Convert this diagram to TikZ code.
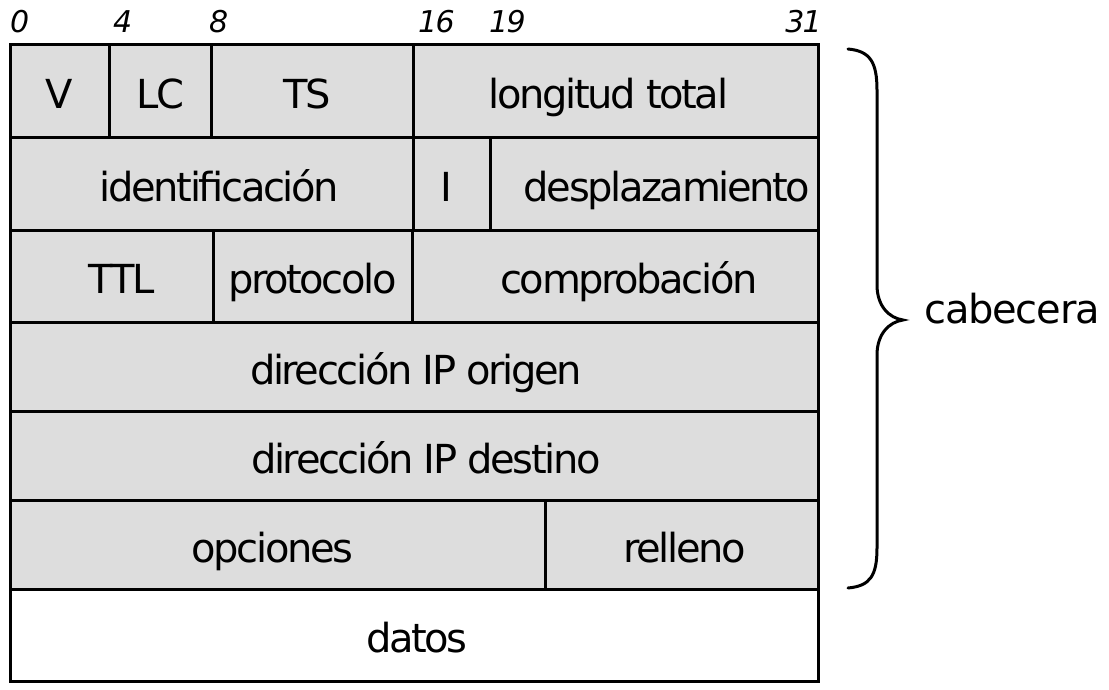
\documentclass[tikz,border=0pt]{standalone}
\usepackage{fontspec}
\setmainfont{DejaVu Sans}[LetterSpace=-6]
\usetikzlibrary{positioning}
\definecolor{cellgray}{RGB}{221,221,221}

\begin{document}
\begin{tikzpicture}[
  x=1pt, y=-1pt,
  every node/.style={font=\fontsize{40}{48}\selectfont},
  field/.style={draw, fill=cellgray, line width=3pt, anchor=north west,
                inner sep=0pt, outer sep=0pt, text height=35pt, text depth=0pt},
  nudge/.style={execute at begin node={\hspace*{#1}}},
  bitnum/.style={font=\fontsize{30}{34}\selectfont\itshape, inner sep=0pt, anchor=base west},
  brace/.style={line width=3pt, line cap=round},
]
\useasboundingbox (0,0) rectangle (1109,690);

% Bit positions
\node[bitnum] (b0) at (10,33) {0};
\node[bitnum] (b4) at (113,33) {4};
\node[bitnum] (b8) at (209,33) {8};
\node[bitnum] (b16) at (418,33) {16};
\node[bitnum] (b19) at (489,33) {19};
\node[bitnum, anchor=base east] (b31) at (822,33) {31};

% Row 1
\node[field, minimum width=99, minimum height=93] (ver) at (10,45) {V};
\node[field, minimum width=102, minimum height=93, right=0pt of ver] (lc) {LC};
\node[field, minimum width=202, minimum height=93, right=0pt of lc, nudge=-10pt] (ts) {TS};
\node[field, minimum width=405, minimum height=93, right=0pt of ts, nudge=-14pt] (len) {longitud total};

% Row 2
\node[field, minimum width=403, minimum height=92, nudge=16pt] (ident) at (10,138) {identificación};
\node[field, minimum width=77, minimum height=92, right=0pt of ident, nudge=-10pt] (flag) {I};
\node[field, minimum width=328, minimum height=92, right=0pt of flag, nudge=26pt] (frag) {desplazamiento};

% Row 3
\node[field, minimum width=203, minimum height=92, nudge=20pt] (ttl) at (10,230) {TTL};
\node[field, minimum width=199, minimum height=92, right=0pt of ttl] (proto) {protocolo};
\node[field, minimum width=406, minimum height=92, right=0pt of proto, nudge=28pt] (csum) {comprobación};

% Rows 4-5
\node[field, minimum width=808, minimum height=89, nudge=4pt] (src) at (10,322) {dirección IP origen};
\node[field, minimum width=808, minimum height=89, nudge=24pt] (dst) at (10,411) {dirección IP destino};

% Row 6
\node[field, minimum width=535, minimum height=89, nudge=-10pt] (opts) at (10,500) {opciones};
\node[field, minimum width=273, minimum height=89, right=0pt of opts, nudge=6pt] (pad) {relleno};

% Payload
\node[field, fill=white, minimum width=808, minimum height=92, nudge=6pt] (data) at (10,589) {datos};

% Header brace
\draw[brace] (848,49) .. controls (870,51) and (877,62) .. (877,90)
  -- (877,285) .. controls (877,306) and (889,318) .. (903,320)
  .. controls (889,322) and (877,334) .. (877,355)
  -- (877,548) .. controls (877,576) and (870,586) .. (848,588);
\node[anchor=base west, inner sep=0pt, font=\fontsize{40}{48}\selectfont\addfontfeature{LetterSpace=-3}] (hdr) at (924,323) {cabecera};

\end{tikzpicture}
\end{document}
